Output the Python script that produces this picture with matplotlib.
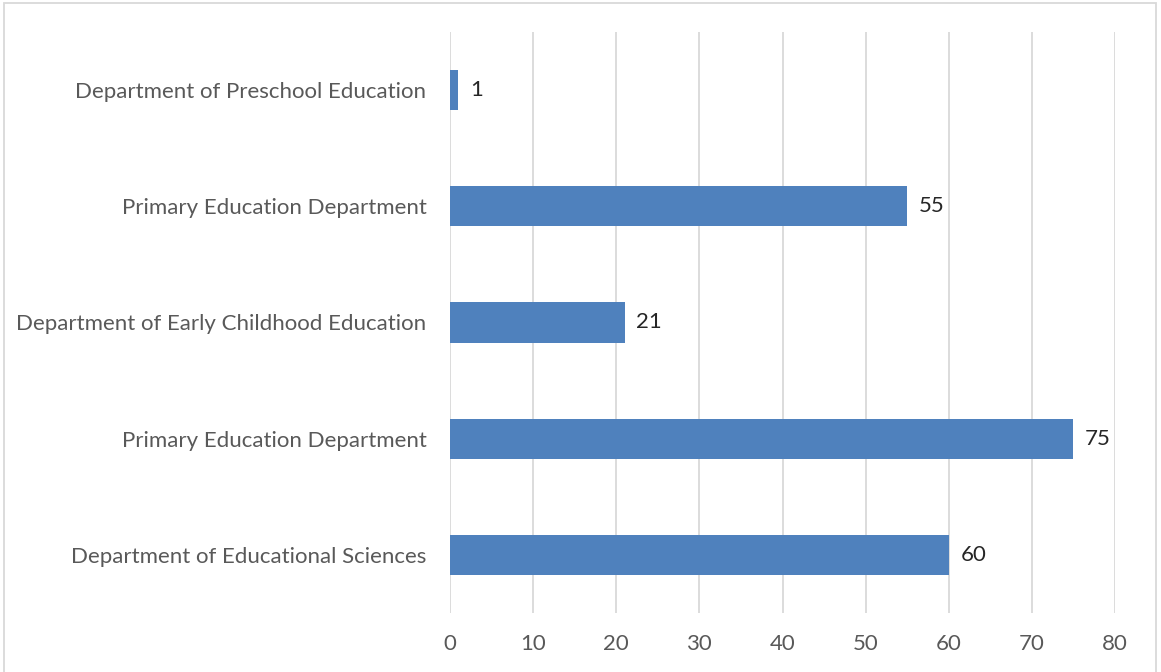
import matplotlib.pyplot as plt
from matplotlib.patches import Rectangle

departments = [
    "Department of Educational Sciences",
    "Primary Education Department",
    "Department of Early Childhood Education",
    "Primary Education Department",
    "Department of Preschool Education",
]
counts = [60, 75, 21, 55, 1]
x_ticks = [0, 10, 20, 30, 40, 50, 60, 70, 80]

plt.rcParams["font.family"] = ["Lato", "DejaVu Sans"]

fig = plt.figure(figsize=(11.61, 6.72), dpi=100)
ax = fig.add_axes([450 / 1161, 1 - 613 / 672, (1115 - 450) / 1161, (613 - 32) / 672])

pos = list(range(len(departments)))
bars = ax.barh(pos, counts, height=0.345, color="#4F81BD", zorder=3)

for b, v in zip(bars, counts):
    ax.text(b.get_width() + 1.4, b.get_y() + b.get_height() / 2, str(v),
            va="center", ha="left", fontsize=16, color="#262626")

ax.set_xlim(0, 80)
ax.set_ylim(-0.5, len(departments) - 0.5)
ax.set_xticks(x_ticks)
ax.set_yticks(pos)
ax.set_yticklabels(departments)
ax.tick_params(axis="both", length=0, labelsize=16, labelcolor="#595959")
ax.tick_params(axis="y", pad=17)
ax.tick_params(axis="x", pad=15)
ax.xaxis.grid(True, color="#D9D9D9", linewidth=1.3, zorder=0)
for s in ax.spines.values():
    s.set_visible(False)

# outer chart border
fig.patches.append(Rectangle((4 / 1161, -0.01), 1152 / 1161, 1 - 3 / 672 + 0.01,
                             transform=fig.transFigure, fill=False,
                             edgecolor="#D9D9D9", linewidth=1.3))

fig.savefig("out.png", dpi=100)
